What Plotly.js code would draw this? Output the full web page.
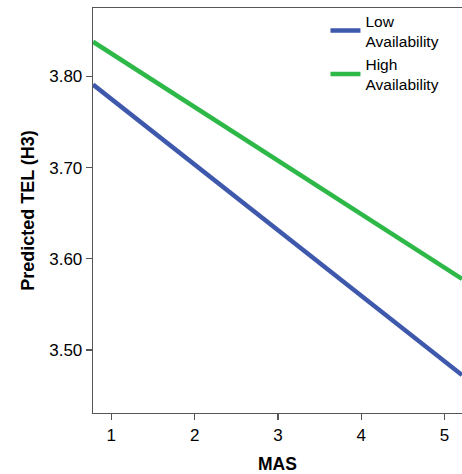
<!DOCTYPE html>
<html>
<head>
<meta charset="utf-8">
<script src="https://cdn.plot.ly/plotly-3.0.1.min.js"></script>
<style>html,body{margin:0;padding:0;background:#fff;}#chart{width:462px;height:474px;}</style>
</head>
<body>
<div id="chart"></div>
<script>
const MAS = [0.78, 5.21];
const lowAvailability = [3.791, 3.4726];
const highAvailability = [3.838, 3.578];
const seriesNames = ["Low<br>Availability", "High<br>Availability"];
const xTicks = [1, 2, 3, 4, 5];
const yTicks = [3.5, 3.6, 3.7, 3.8];
const yTickLabels = ["3.50", "3.60", "3.70", "3.80"];

const font = "Liberation Sans, Arial, sans-serif";
const traces = [
  {x: MAS, y: lowAvailability, name: seriesNames[0], mode: "lines", line: {color: "#3E58AC", width: 4.5}},
  {x: MAS, y: highAvailability, name: seriesNames[1], mode: "lines", line: {color: "#2EB848", width: 4.5}}
];
const layout = {
  width: 462, height: 474,
  margin: {l: 92.5, r: 0, t: 8, b: 61},
  paper_bgcolor: "#fff", plot_bgcolor: "#fff",
  font: {family: font, size: 16, color: "#000"},
  showlegend: true,
  legend: {x: 0.63, y: 1.01, xanchor: "left", yanchor: "top", bgcolor: "rgba(0,0,0,0)",
           font: {family: font, size: 15.5, color: "#000"}, tracegroupgap: 0, itemwidth: 30},
  xaxis: {range: [0.78, 5.21], tickvals: xTicks, ticktext: xTicks.map(String),
          showgrid: false, zeroline: false, showline: true, linecolor: "#555", linewidth: 1.3,
          mirror: true, ticks: "outside", ticklen: 6, tickcolor: "#555", tickwidth: 1.3,
          tickfont: {family: font, size: 17},
          title: {text: "<b>MAS</b>", font: {family: font, size: 17.5}, standoff: 14}},
  yaxis: {range: [3.431, 3.875], tickvals: yTicks, ticktext: yTickLabels,
          showgrid: false, zeroline: false, showline: true, linecolor: "#555", linewidth: 1.3,
          ticks: "outside", ticklen: 6, tickcolor: "#555", tickwidth: 1.3,
          tickfont: {family: font, size: 17},
          title: {text: "<b>Predicted TEL (H3)</b>", font: {family: font, size: 18}, standoff: 10}}
};
Plotly.newPlot("chart", traces, layout, {displayModeBar: false, staticPlot: true});
</script>
</body>
</html>
